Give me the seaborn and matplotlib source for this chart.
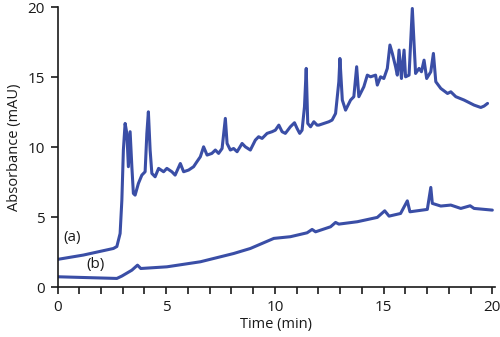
import matplotlib
matplotlib.use("Agg")
import matplotlib.pyplot as plt
from matplotlib.ticker import MultipleLocator
import pandas as pd
import seaborn as sns

# Chromatogram trace (a): retention time (min) and absorbance (mAU)
time_a = [0.00, 1.19, 2.57, 2.73, 2.88, 2.96, 3.03, 3.11, 3.19, 3.26, 3.34, 3.42, 3.49,
          3.57, 3.72, 3.88, 4.03, 4.11, 4.18, 4.26, 4.34, 4.49, 4.65, 4.88, 5.03, 5.26,
          5.41, 5.65, 5.80, 6.03, 6.26, 6.41, 6.57, 6.72, 6.88, 7.10, 7.26, 7.41, 7.57,
          7.72, 7.80, 7.95, 8.10, 8.26, 8.49, 8.64, 8.87, 9.10, 9.25, 9.41, 9.64, 9.87,
          10.02, 10.18, 10.33, 10.48, 10.71, 10.90, 11.02, 11.14, 11.25, 11.36, 11.44,
          11.51, 11.64, 11.79, 11.94, 12.02, 12.48, 12.63, 12.79, 12.94, 12.99, 13.10,
          13.25, 13.48, 13.63, 13.76, 13.86, 14.09, 14.25, 14.40, 14.63, 14.71, 14.86,
          15.01, 15.17, 15.29, 15.40, 15.55, 15.63, 15.71, 15.82, 15.94, 16.01, 16.17,
          16.32, 16.40, 16.47, 16.63, 16.74, 16.86, 16.98, 17.17, 17.29, 17.40, 17.63,
          17.94, 18.09, 18.32, 18.70, 19.16, 19.47, 19.62, 19.78]
absorb_a = [1.98, 2.29, 2.76, 2.90, 3.83, 6.20, 9.79, 11.69, 10.98, 8.60, 11.10, 8.60, 6.69,
            6.57, 7.40, 8.00, 8.24, 10.98, 12.52, 9.79, 8.12, 7.88, 8.48, 8.24, 8.48, 8.24,
            8.00, 8.83, 8.24, 8.36, 8.60, 8.95, 9.31, 10.02, 9.43, 9.55, 9.79, 9.55, 9.90,
            12.05, 10.26, 9.79, 9.90, 9.67, 10.26, 10.02, 9.79, 10.50, 10.74, 10.62, 10.98,
            11.10, 11.21, 11.57, 11.10, 10.98, 11.45, 11.74, 11.33, 10.98, 11.21, 12.88,
            15.62, 11.69, 11.45, 11.81, 11.57, 11.57, 11.81, 11.93, 12.40, 14.67, 16.33,
            13.36, 12.64, 13.36, 13.60, 15.74, 13.60, 14.31, 15.14, 15.02, 15.14, 14.43,
            15.02, 14.90, 15.62, 17.29, 16.69, 15.74, 15.14, 16.93, 14.90, 16.93, 15.02,
            15.14, 19.90, 17.40, 15.26, 15.62, 15.38, 16.21, 14.90, 15.38, 16.69, 14.67,
            14.19, 13.83, 13.95, 13.60, 13.36, 13.00, 12.83, 12.93, 13.12]

# Chromatogram trace (b)
time_b = [0.00, 2.73, 2.96, 3.42, 3.68, 3.83, 5.03, 6.57, 8.10, 8.87, 9.95, 10.71, 11.48,
          11.71, 11.87, 12.56, 12.79, 12.94, 13.79, 14.71, 15.05, 15.25, 15.78, 16.09,
          16.21, 17.01, 17.17, 17.24, 17.63, 18.09, 18.55, 18.98, 19.16, 20.00]
absorb_b = [0.74, 0.62, 0.79, 1.21, 1.57, 1.33, 1.45, 1.81, 2.40, 2.76, 3.48, 3.60, 3.88,
            4.12, 3.95, 4.31, 4.62, 4.50, 4.67, 4.98, 5.45, 5.07, 5.26, 6.16, 5.38, 5.55,
            7.12, 5.98, 5.79, 5.86, 5.62, 5.81, 5.62, 5.50]

trace_labels = ["(a)", "(b)"]
label_time = [0.67, 1.77]
label_absorb = [3.57, 1.64]

x_ticks = [0, 5, 10, 15, 20]
y_ticks = [0, 5, 10, 15, 20]

sns.set_theme(style="ticks")
plt.rcParams["font.family"] = ["Open Sans", "DejaVu Sans"]

line_color = "#3a4ea6"
ink = "#1a1a1a"

df_a = pd.DataFrame({"Time": time_a, "Absorbance": absorb_a})
df_b = pd.DataFrame({"Time": time_b, "Absorbance": absorb_b})

fig = plt.figure(figsize=(5.0, 3.37), dpi=100)
ax = fig.add_axes([0.115, 0.148, 0.874, 0.831])

sns.lineplot(data=df_a, x="Time", y="Absorbance", ax=ax, color=line_color,
             linewidth=2.2, sort=False)
sns.lineplot(data=df_b, x="Time", y="Absorbance", ax=ax, color=line_color,
             linewidth=2.2, sort=False)

for txt, tx, ty in zip(trace_labels, label_time, label_absorb):
    ax.text(tx, ty, txt, ha="center", va="center", fontsize=11, color=ink)

ax.set_xlim(0, 20.1)
ax.set_ylim(0, 20)
ax.set_xticks(x_ticks)
ax.set_yticks(y_ticks)
ax.xaxis.set_minor_locator(MultipleLocator(1))
ax.tick_params(axis="both", which="major", direction="out", length=5, width=1.2,
               labelsize=11, colors=ink, pad=4)
ax.tick_params(axis="x", which="minor", direction="out", length=5, width=1.2,
               colors=ink)
ax.set_xlabel("Time (min)", fontsize=10.5, color=ink, labelpad=2)
ax.set_ylabel("Absorbance (mAU)", fontsize=10.5, color=ink, labelpad=4)

sns.despine(ax=ax)
for side in ("left", "bottom"):
    ax.spines[side].set_linewidth(1.2)
    ax.spines[side].set_color(ink)

fig.savefig("out.png", dpi=100)
